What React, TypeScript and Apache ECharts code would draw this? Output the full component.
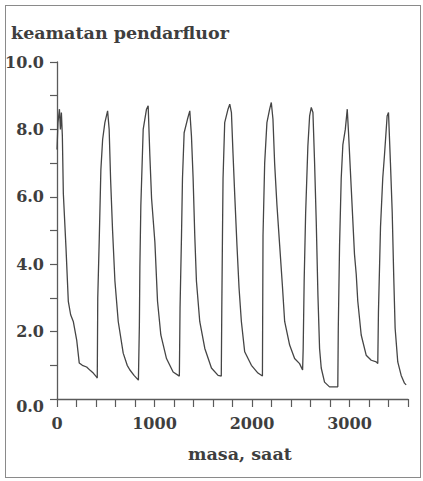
import React, { useEffect, useRef } from "react";
import * as echarts from "echarts";

// time (s) / intensity pairs, one array per oscillation cycle
const cycle0 = [[0,7.4],[10,8.2],[25,8.6],[35,8.0],[45,8.5],[55,7.8],[65,6.1],[92,4.5],[116,2.9],[140,2.5],[167,2.3],[202,1.75],[228,1.07],[260,1.0],[304,0.95],[340,0.85],[372,0.77],[407,0.65],[413,0.62]];
const cycle1 = [[418,3.0],[433,4.7],[450,6.8],[468,7.7],[491,8.2],[519,8.55],[535,8.0],[550,6.5],[570,5.0],[594,3.5],[628,2.3],[679,1.36],[720,1.0],[748,0.86],[790,0.7],[835,0.56]];
const cycle2 = [[845,2.2],[850,3.9],[860,5.75],[884,8.0],[918,8.6],[935,8.7],[952,7.25],[970,5.95],[1004,4.65],[1031,2.9],[1065,1.9],[1123,1.2],[1191,0.8],[1255,0.68]];
const cycle3 = [[1262,2.7],[1277,4.85],[1287,6.55],[1304,7.9],[1338,8.3],[1362,8.55],[1379,7.8],[1396,6.55],[1413,4.85],[1430,3.5],[1464,2.3],[1516,1.5],[1584,0.92],[1652,0.7],[1685,0.68]];
const cycle4 = [[1690,2.6],[1697,4.8],[1703,6.55],[1720,8.2],[1754,8.6],[1772,8.75],[1789,8.5],[1805,7.3],[1823,6.05],[1846,4.55],[1867,3.3],[1891,2.3],[1925,1.4],[1994,1.0],[2061,0.77],[2107,0.68]];
const cycle5 = [[2113,4.85],[2130,7.0],[2153,8.2],[2181,8.6],[2198,8.8],[2215,8.3],[2232,7.0],[2256,5.75],[2284,4.55],[2311,3.4],[2335,2.3],[2386,1.6],[2437,1.2],[2488,1.05],[2519,0.86]];
const cycle6 = [[2525,1.5],[2535,3.5],[2550,5.5],[2573,7.5],[2591,8.4],[2608,8.65],[2625,8.5],[2642,7.0],[2659,5.25],[2676,3.1],[2693,1.5],[2710,0.92],[2744,0.5],[2795,0.36],[2880,0.36]];
const cycle7 = [[2885,2.1],[2898,4.55],[2915,6.55],[2932,7.55],[2957,8.0],[2977,8.6],[2990,7.9],[3018,6.25],[3051,4.3],[3069,3.7],[3085,2.9],[3120,1.9],[3171,1.3],[3223,1.15],[3274,1.1],[3290,1.05]];
const cycle8 = [[3297,2.6],[3318,5.1],[3341,6.55],[3359,7.25],[3386,8.4],[3400,8.5],[3420,7.0],[3438,5.55],[3454,3.6],[3468,2.1],[3495,1.1],[3530,0.7],[3564,0.47],[3581,0.42]];

const xTickLabels = ["0", "1000", "2000", "3000"];
const yTickLabels = ["0.0", "2.0", "4.0", "6.0", "8.0", "10.0"];

const titleText = "keamatan pendarfluor";
const xName = "masa, saat";

const FONT = "DejaVu Serif";
const TEXT = "#3e3e3e";
const AXIS = "#5a5a5a";

export default function App() {
  const ref = useRef<HTMLDivElement>(null);
  useEffect(() => {
    document.body.style.margin = "0";
    const chart = echarts.init(ref.current!, undefined, { renderer: "svg" });
    const data = [
      ...cycle0, ...cycle1, ...cycle2, ...cycle3, ...cycle4,
      ...cycle5, ...cycle6, ...cycle7, ...cycle8,
    ];
    const labelFont = { fontFamily: FONT, fontWeight: "bold", fontSize: 16, color: TEXT };
    const bigFont = { fontFamily: FONT, fontWeight: "bold", fontSize: 17.5, color: TEXT };
    chart.setOption({
      animation: false,
      title: [
        { text: titleText, left: 11, top: 24, padding: 0, textStyle: bigFont },
        { text: xName, left: 188, top: 445, padding: 0, textStyle: bigFont },
      ],
      grid: { left: 57, right: 15, top: 62, bottom: 82 },
      xAxis: {
        type: "value",
        min: 0,
        max: 3600,
        interval: 200,
        axisLine: { show: true, lineStyle: { color: AXIS, width: 1.3 } },
        axisTick: { show: true, length: 8, lineStyle: { color: AXIS, width: 1.2 } },
        axisLabel: {
          show: true,
          margin: 16,
          formatter: (v: number) => {
            const i = Math.round(v / 1000);
            return Math.abs(v - i * 1000) < 1e-6 && xTickLabels[i] !== undefined ? xTickLabels[i] : "";
          },
          ...labelFont,
        },
        splitLine: { show: false },
      },
      yAxis: {
        type: "value",
        min: 0,
        max: 10,
        interval: 1,
        axisLine: { show: true, lineStyle: { color: AXIS, width: 1.3 } },
        axisTick: { show: true, length: 7, lineStyle: { color: AXIS, width: 1.2 } },
        axisLabel: {
          show: true,
          margin: 13,
          formatter: (v: number) => {
            const r = Math.round(v);
            if (r === 0) return "{z|" + yTickLabels[0] + "}";
            return r % 2 === 0 ? yTickLabels[r / 2] ?? "" : "";
          },
          rich: { z: { ...labelFont, padding: [14, 0, 0, 0] } },
          ...labelFont,
        },
        splitLine: { show: false },
      },
      series: [
        {
          type: "line",
          data,
          showSymbol: false,
          symbol: "none",
          lineStyle: { color: "#454545", width: 1.3 },
        },
      ],
    });
    return () => chart.dispose();
  }, []);
  return (
    <div style={{ position: "relative", width: 423, height: 481, background: "#ffffff" }}>
      <div ref={ref} style={{ width: 423, height: 481 }} />
      <div
        style={{
          position: "absolute",
          left: 5,
          top: 5,
          width: 414,
          height: 471,
          border: "1.5px solid #8a8a8a",
          pointerEvents: "none",
        }}
      />
    </div>
  );
}
